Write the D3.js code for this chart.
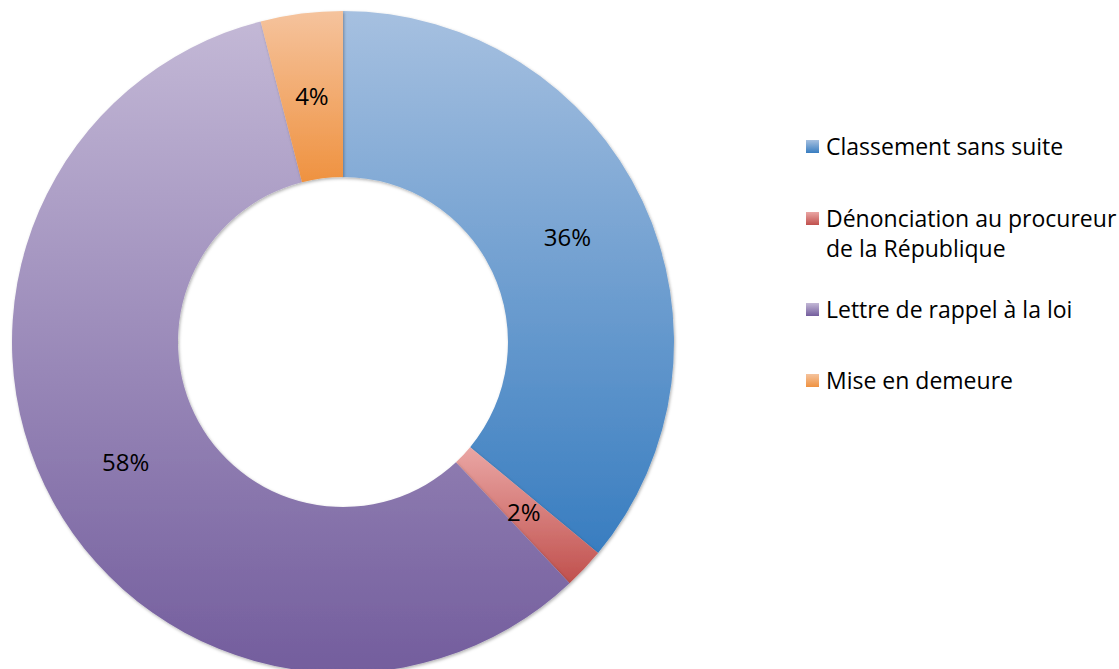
<!DOCTYPE html>
<html>
<head>
<meta charset="utf-8">
<script src="https://cdn.jsdelivr.net/npm/d3@7"></script>
<style>
  body { margin: 0; background: #fff; }
  text { font-family: "Open Sans", sans-serif; }
</style>
</head>
<body>
<script>
var categories = ["Classement sans suite", "Dénonciation au procureur de la République", "Lettre de rappel à la loi", "Mise en demeure"];
var values = [36, 2, 58, 4];
var labels = ["36%", "2%", "58%", "4%"];
// legend text broken over lines as in the original
var legendLines = [["Classement sans suite"], ["Dénonciation au procureur", "de la République"], ["Lettre de rappel à la loi"], ["Mise en demeure"]];
var colorsTop = ["#a6c0e0", "#eaa6a4", "#c3b8d6", "#f5c39d"];
var colorsBottom = ["#387dc0", "#c0504d", "#735d9d", "#ef9240"];

var width = 1119, height = 669;
var cx = 343, cy = 342, outerR = 331, innerR = 165;

var svg = d3.select("body").append("svg")
    .attr("width", width)
    .attr("height", height);

var defs = svg.append("defs");
categories.forEach(function(c, i) {
    var g = defs.append("linearGradient")
        .attr("id", "grad" + i)
        .attr("x1", 0).attr("y1", 0).attr("x2", 0).attr("y2", 1);
    g.append("stop").attr("offset", "0%").attr("stop-color", colorsTop[i]);
    g.append("stop").attr("offset", "100%").attr("stop-color", colorsBottom[i]);
});
var f = defs.append("filter").attr("id", "shadow")
    .attr("x", "-10%").attr("y", "-10%").attr("width", "120%").attr("height", "120%");
f.append("feDropShadow").attr("dx", 1).attr("dy", 1.5).attr("stdDeviation", 1.5)
    .attr("flood-color", "#000").attr("flood-opacity", 0.3);

var pie = d3.pie().sort(null).value(function(d) { return d; });
var arc = d3.arc().innerRadius(innerR).outerRadius(outerR);
var arcs = pie(values);

var g = svg.append("g").attr("transform", "translate(" + cx + "," + cy + ")");

g.selectAll(".slice")
    .data(arcs)
    .enter().append("path")
    .attr("class", "slice")
    .attr("d", arc)
    .attr("fill", function(d, i) { return "url(#grad" + i + ")"; })
    .attr("filter", "url(#shadow)");

g.selectAll(".lbl")
    .data(arcs)
    .enter().append("text")
    .attr("class", "lbl")
    .attr("transform", function(d) { return "translate(" + arc.centroid(d) + ")"; })
    .attr("text-anchor", "middle")
    .attr("dy", "0.38em")
    .style("font-size", "24px")
    .style("fill", "#000")
    .text(function(d, i) { return labels[i]; });

// legend
var legendY = [147, 219, 310, 381];
var legend = svg.append("g");
legendLines.forEach(function(lines, i) {
    legend.append("rect")
        .attr("x", 806).attr("y", legendY[i] - 7)
        .attr("width", 13).attr("height", 13)
        .attr("fill", "url(#grad" + i + ")");
    lines.forEach(function(line, j) {
        legend.append("text")
            .attr("x", 826)
            .attr("y", legendY[i] + j * 30)
            .attr("dy", "0.36em")
            .style("font-size", "23px")
            .style("fill", "#000")
            .text(line);
    });
});
</script>
</body>
</html>
